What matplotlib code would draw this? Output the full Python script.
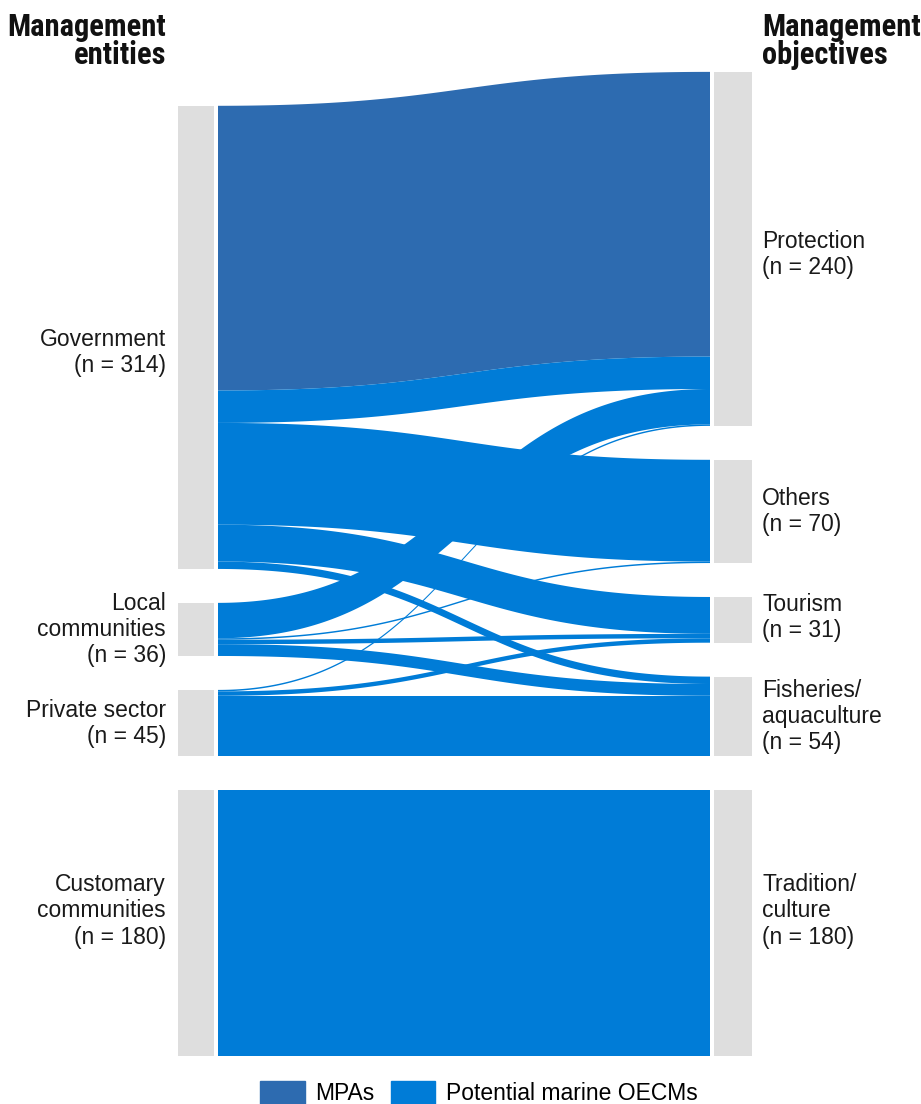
import matplotlib.pyplot as plt
from matplotlib.patches import Polygon, Rectangle, Patch
import numpy as np

# nodes (top to bottom)
left_nodes = ["Government", "Local communities", "Private sector", "Customary communities"]
left_labels = ["Government\n(n = 314)", "Local\ncommunities\n(n = 36)",
               "Private sector\n(n = 45)", "Customary\ncommunities\n(n = 180)"]
right_nodes = ["Protection", "Others", "Tourism", "Fisheries", "Tradition"]
right_labels = ["Protection\n(n = 240)", "Others\n(n = 70)", "Tourism\n(n = 31)",
                "Fisheries/\naquaculture\n(n = 54)", "Tradition/\nculture\n(n = 180)"]

# flows: source, target, value, type
sources = ["Government", "Government", "Government", "Government", "Government",
           "Local communities", "Local communities", "Local communities", "Local communities",
           "Private sector", "Private sector", "Private sector",
           "Customary communities"]
targets = ["Protection", "Protection", "Others", "Tourism", "Fisheries",
           "Protection", "Others", "Tourism", "Fisheries",
           "Protection", "Tourism", "Fisheries",
           "Tradition"]
values = [193, 22, 69, 25, 5,
          24, 1, 3, 8,
          1, 3, 41,
          180]
kinds = ["MPA", "OECM", "OECM", "OECM", "OECM",
         "OECM", "OECM", "OECM", "OECM",
         "OECM", "OECM", "OECM",
         "OECM"]

colors = {"MPA": "#2d6bb0", "OECM": "#007cd7"}
gap = 23
scale = 1.475  # px per unit

def node_sizes(nodes, side):
    return [sum(v for s, t, v in zip(sources, targets, values) if (s if side == 0 else t) == n)
            for n in nodes]

def node_tops(sizes):
    # stacked from the bottom (y = 0) upward
    total = sum(sizes) + gap * (len(sizes) - 1)
    tops, y = [], total
    for sz in sizes:
        tops.append(y)
        y -= sz + gap
    return tops

lsz = node_sizes(left_nodes, 0)
rsz = node_sizes(right_nodes, 1)
ltop = dict(zip(left_nodes, node_tops(lsz)))
rtop = dict(zip(right_nodes, node_tops(rsz)))

fig = plt.figure(figsize=(9.21, 11.04), dpi=100)
ax = fig.add_axes([0, 0, 1, 1])
ax.set_xlim(0, 921)
ax.set_ylim(-48.3 / scale, 1055.7 / scale)
ax.axis("off")

xl0, xl1 = 178, 214
xf0, xf1 = 218, 710
xr0, xr1 = 714, 752

for n, sz in zip(left_nodes, lsz):
    ax.add_patch(Rectangle((xl0, ltop[n] - sz), xl1 - xl0, sz, color="#dedede", lw=0))
for n, sz in zip(right_nodes, rsz):
    ax.add_patch(Rectangle((xr0, rtop[n] - sz), xr1 - xr0, sz, color="#dedede", lw=0))

# band offsets: left side ordered by target, right side ordered by source
idx = list(range(len(values)))
lorder = sorted(idx, key=lambda i: (left_nodes.index(sources[i]), right_nodes.index(targets[i]), kinds[i] != "MPA"))
rorder = sorted(idx, key=lambda i: (right_nodes.index(targets[i]), left_nodes.index(sources[i]), kinds[i] != "MPA"))
lpos, rpos = {}, {}
cur = dict(ltop)
for i in lorder:
    lpos[i] = cur[sources[i]]
    cur[sources[i]] -= values[i]
cur = dict(rtop)
for i in rorder:
    rpos[i] = cur[targets[i]]
    cur[targets[i]] -= values[i]

t = np.linspace(0, 1, 200)
xm = (xf0 + xf1) / 2

def bez(y0, y1):
    x = (1 - t) ** 3 * xf0 + 3 * (1 - t) ** 2 * t * xm + 3 * (1 - t) * t ** 2 * xm + t ** 3 * xf1
    s = 3 * (1 - t) * t ** 2 + t ** 3
    return x, y0 + (y1 - y0) * s

for i in sorted(idx, key=lambda i: -values[i]):
    v = values[i]
    xa, ya = bez(lpos[i], rpos[i])
    xb, yb = bez(lpos[i] - v, rpos[i] - v)
    pts = np.column_stack([np.concatenate([xa, xb[::-1]]), np.concatenate([ya, yb[::-1]])])
    ax.add_patch(Polygon(pts, closed=True, facecolor=colors[kinds[i]], edgecolor="none", lw=0))

# label nudges in px (positive = down)
left_nudge = [15, 0, 0, -12]
right_nudge = [6, 0, -2, 0, -12]

font = ["Liberation Sans", "DejaVu Sans"]
head = ["Roboto Condensed", "Archivo Narrow", "Liberation Sans", "DejaVu Sans"]
for n, sz, lab, d in zip(left_nodes, lsz, left_labels, left_nudge):
    ax.text(166, ltop[n] - sz / 2 - d / scale, lab, ha="right", va="center", fontsize=16.5,
            family=font, color="#1a1a1a", linespacing=1.17)
for n, sz, lab, d in zip(right_nodes, rsz, right_labels, right_nudge):
    ax.text(762, rtop[n] - sz / 2 - d / scale, lab, ha="left", va="center", fontsize=16.5,
            family=font, color="#1a1a1a", linespacing=1.17)

fig.text(166 / 921, 1 - 12 / 1104, "Management\nentities", ha="right", va="top", fontsize=22,
         fontweight="bold", family=head, linespacing=0.92, color="#111111")
fig.text(762 / 921, 1 - 12 / 1104, "Management\nobjectives", ha="left", va="top", fontsize=22,
         fontweight="bold", family=head, linespacing=0.92, color="#111111")

handles = [Patch(color=colors["MPA"], label="MPAs"),
           Patch(color=colors["OECM"], label="Potential marine OECMs")]
fig.legend(handles=handles, loc="lower center", bbox_to_anchor=(0.52, -0.02), ncol=2,
           frameon=False, handlelength=1.95, handleheight=1.2, handletextpad=0.45,
           columnspacing=0.7, prop={"family": font, "size": 16.5})

fig.savefig("out.png", dpi=100)
